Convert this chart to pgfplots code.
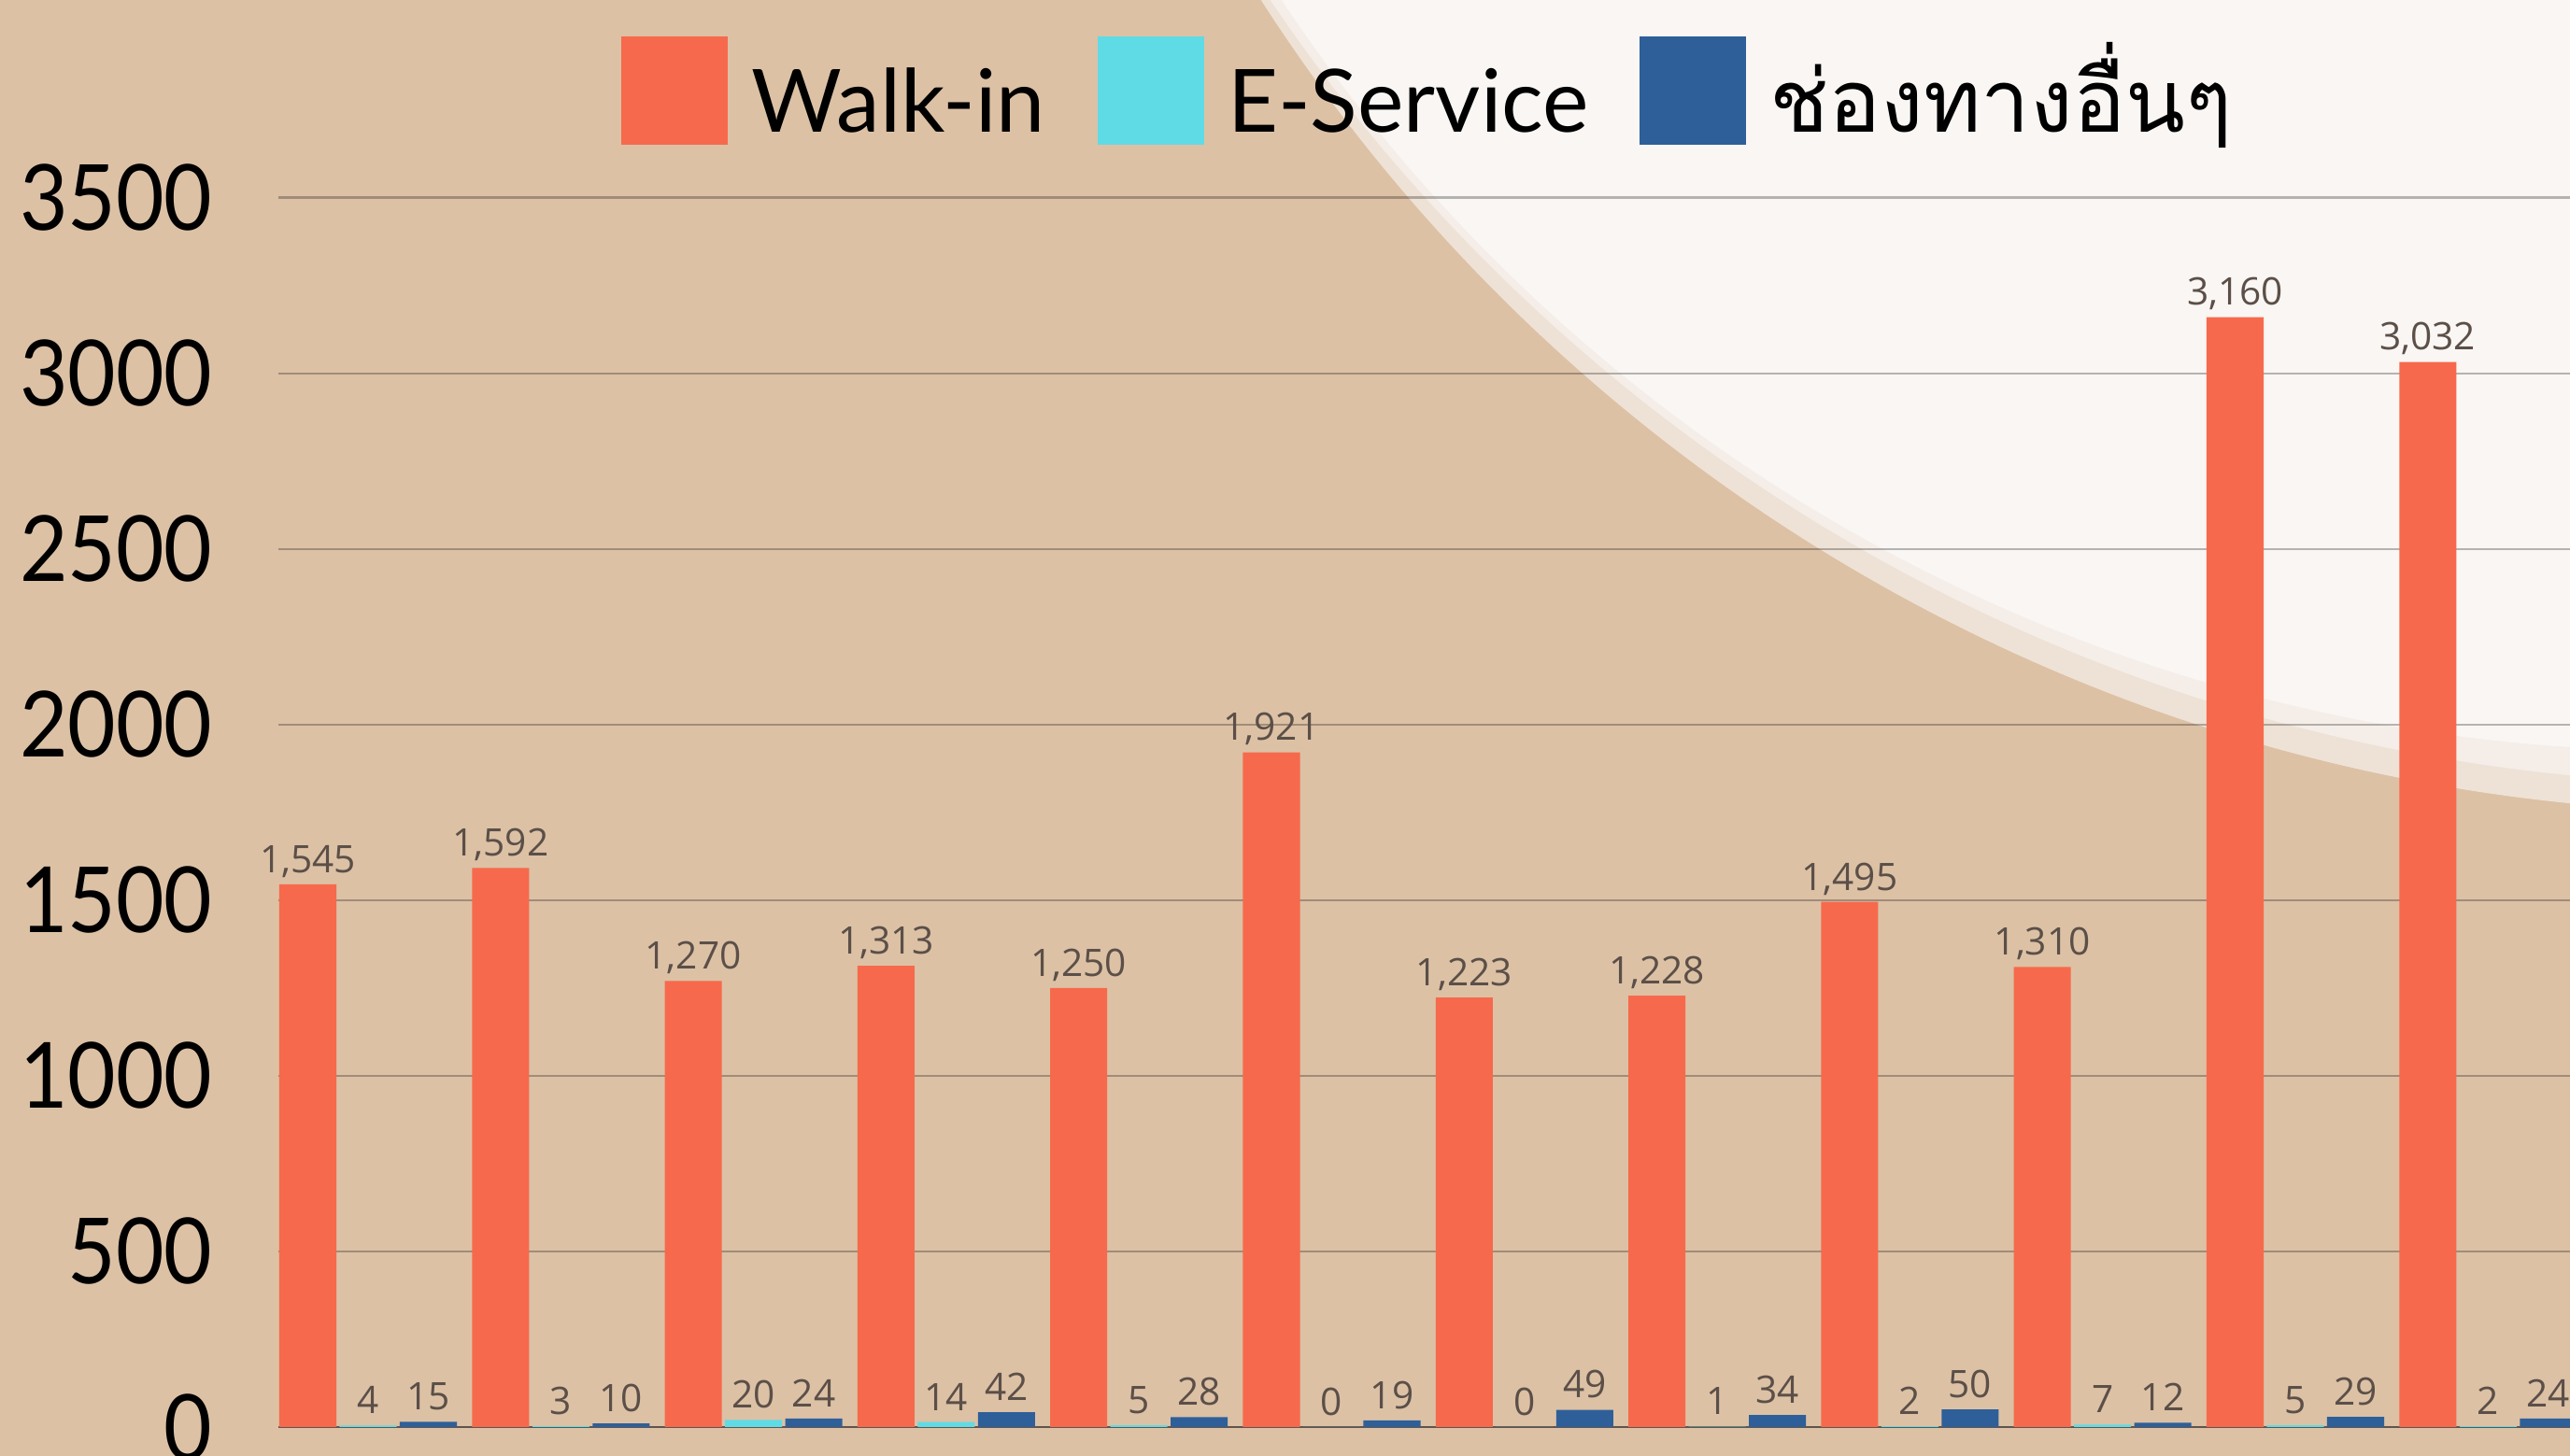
\documentclass[border=0pt]{standalone}
\usepackage{fontspec}
\setmainfont{Lato}
\newfontfamily\thaifont[Script=Thai]{Loma}
\newfontfamily\labelfont{Open Sans}
\newfontfamily\tickfont[FakeStretch=0.91]{Lato}
\usepackage{pgfplots}
\usepackage{pgfplotstable}
\pgfplotsset{compat=1.18}
\definecolor{bgtan}{HTML}{DCC1A5}
\definecolor{bandA}{HTML}{EEE2D6}
\definecolor{bandB}{HTML}{F5EEE8}
\definecolor{bgwhite}{HTML}{F9F6F3}
\definecolor{walkc}{HTML}{F7694C}
\definecolor{esc}{HTML}{5FDBE5}
\definecolor{othc}{HTML}{2E5F99}
\definecolor{labelc}{HTML}{5B4F48}
\pgfplotsset{sqlegend/.style={legend image code/.code={\fill[#1] (0cm,-0.13cm) rectangle (1.14cm,1.03cm); \path (1.39cm,0cm);}}}

\pgfplotstableread{
k walk es oth
0 1545 4 15
1 1592 3 10
2 1270 20 24
3 1313 14 42
4 1250 5 28
5 1921 0 19
6 1223 0 49
7 1228 1 34
8 1495 2 50
9 1310 7 12
10 3160 5 29
11 3032 2 24
}\datatable

\begin{document}
\begin{tikzpicture}
\useasboundingbox (0,0) rectangle (27.51,15.59);
\clip (0,0) rectangle (27.51,15.59);
\fill[bgtan] (0,0) rectangle (27.51,15.59);
\fill[bandA] (29.412,25.799) circle (18.905);
\fill[bandB] (29.388,26.243) circle (19.046);
\fill[bgwhite] (28.712,25.547) circle (17.997);
\begin{axis}[
  at={(2.98cm,0.31cm)}, anchor=south west,
  scale only axis, width=24.53cm, height=13.163cm,
  xmin=-0.1527, xmax=11.738, ymin=0, ymax=3500,
  xtick=\empty, ytick={0,500,...,3500},
  axis line style={draw=none}, major tick length=0pt,
  ymajorgrids, grid style={draw=black, draw opacity=0.27, line width=0.7pt},
  extra y ticks={0}, extra y tick labels={},
  extra y tick style={grid style={draw=labelc, draw opacity=0.9, line width=0.8pt}},
  /pgf/number format/assume math mode=true,
  /pgf/number format/1000 sep={},
  yticklabel style={font=\tickfont\fontsize{27.8pt}{30pt}\selectfont, text=black, anchor=east, inner sep=0pt, xshift=-0.7cm},
  nodes near coords={\pgfmathprintnumber[1000 sep={,}]{\pgfplotspointmeta}},
  every node near coord/.append style={font=\labelfont\fontsize{11.55pt}{13pt}\selectfont, text=labelc, text depth=0pt, inner sep=0pt, yshift=0.12cm},
  legend columns=3,
  legend style={at={(0.14961,1.08714)}, anchor=west, draw=none, fill=none, inner sep=0pt, outer sep=0pt,
    font=\fontsize{26.6pt}{32pt}\selectfont, cells={anchor=base west}, nodes={inner sep=0pt},
    /tikz/every even column/.style={column sep=0pt}, /tikz/every odd column/.style={column sep=0pt}},
]
\addplot[ybar, bar width=0.296, bar shift=0pt, fill=walkc, draw=none, sqlegend=walkc]
  table[x=k, y=walk] {\datatable};
\addlegendentry{\makebox[3.71cm][l]{\smash{Walk-in}}}
\addplot[ybar, bar width=0.296, bar shift=0pt, fill=esc, draw=none, sqlegend=esc]
  table[x expr=\thisrow{k}+0.3127, y=es] {\datatable};
\addlegendentry{\makebox[4.41cm][l]{\smash{E-Service}}}
\addplot[ybar, bar width=0.296, bar shift=0pt, fill=othc, draw=none, sqlegend=othc]
  table[x expr=\thisrow{k}+0.6254, y=oth] {\datatable};
\addlegendentry{\smash{\thaifont ช่องทางอื่นๆ}}
\end{axis}
\end{tikzpicture}
\end{document}
